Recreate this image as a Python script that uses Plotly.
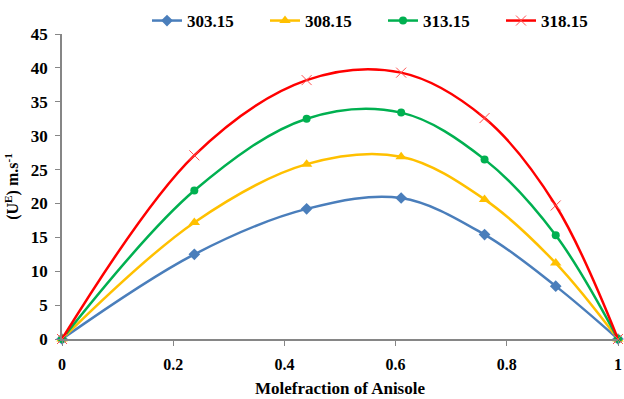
import plotly.graph_objects as go

x_vals = [0, 0.238, 0.44, 0.61, 0.76, 0.888, 1]
series_names = ["303.15", "308.15", "313.15", "318.15"]
u_303 = [0, 12.5, 19.2, 20.8, 15.4, 7.8, 0]
u_308 = [0, 17.2, 25.8, 26.9, 20.6, 11.2, 0]
u_313 = [0, 21.9, 32.5, 33.4, 26.5, 15.3, 0]
u_318 = [0, 27.1, 38.2, 39.3, 32.6, 19.7, 0]
x_ticks = [0, 0.2, 0.4, 0.6, 0.8, 1]
x_tick_labels = ["0", "0.2", "0.4", "0.6", "0.8", "1"]
y_ticks = [0, 5, 10, 15, 20, 25, 30, 35, 40, 45]

colors = ["#4a7ebb", "#ffc000", "#00b050", "#ff0000"]
symbols = ["diamond", "triangle-up", "circle", "x-thin"]
sizes = [9, 10, 8, 10]

fig = go.Figure()
for name, ys, c, s, sz in zip(series_names, [u_303, u_308, u_313, u_318], colors, symbols, sizes):
    marker = dict(symbol=s, size=sz, color=c)
    if s == "x-thin":
        marker["line"] = dict(color="#ff5050", width=1)
    fig.add_trace(go.Scatter(
        x=x_vals, y=ys, name="<b>%s</b>" % name, mode="lines+markers",
        line=dict(color=c, width=2.5, shape="spline", smoothing=1.0),
        marker=marker, cliponaxis=False,
    ))

font_family = "Liberation Serif"
W, H = 624, 399
fig.update_layout(
    width=W, height=H,
    margin=dict(l=62, r=6, t=34, b=60, autoexpand=False),
    paper_bgcolor="white", plot_bgcolor="white",
    font=dict(family=font_family, size=16, color="black"),
    legend=dict(orientation="h", xref="container", yref="container",
                x=147 / W, y=1 - 21 / H, xanchor="left", yanchor="middle",
                font=dict(family=font_family, size=17, color="black"),
                itemwidth=30, entrywidth=73, entrywidthmode="pixels",
                tracegroupgap=0, bgcolor="rgba(0,0,0,0)"),
    showlegend=True,
)
fig.update_xaxes(
    range=[0, 1], tickvals=x_ticks, ticktext=["<b>%s</b>" % t for t in x_tick_labels],
    showgrid=False, zeroline=False, showline=True, linecolor="#868686", linewidth=1.5,
    ticks="outside", tickcolor="#868686", ticklen=5, automargin=False,
    ticklabelstandoff=5,
    title=dict(text="<b>Molefraction of Anisole</b>", font=dict(size=17), standoff=10),
    tickfont=dict(size=16),
)
fig.update_yaxes(
    range=[0, 45], tickvals=y_ticks, ticktext=["<b>%d</b>" % t for t in y_ticks],
    showgrid=False, zeroline=False, showline=True, linecolor="#868686", linewidth=1.5,
    ticks="outside", tickcolor="#868686", ticklen=5, automargin=False,
    ticklabelstandoff=4,
    title=dict(text="<b>(U<sup>E</sup>) m.s<sup>-1</sup></b>", font=dict(size=16), standoff=8),
    tickfont=dict(size=17),
)
fig.write_html("out.html", config={"displayModeBar": False},
               post_script="document.body.style.margin='0';document.body.style.overflow='hidden';")
